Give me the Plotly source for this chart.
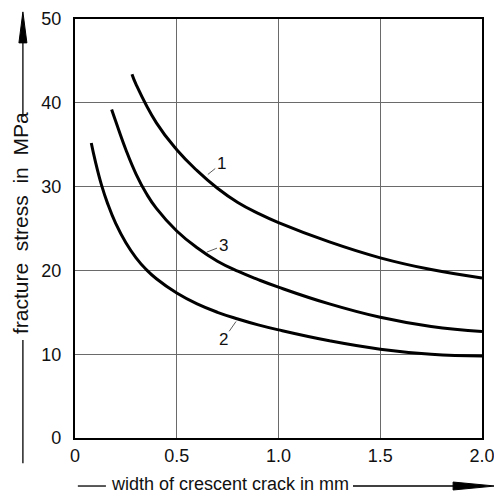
import plotly.graph_objects as go

# Data
x_curve1 = [0.28, 0.3, 0.4, 0.5, 0.6, 0.7, 0.8, 0.9, 1.0, 1.25, 1.5, 1.75, 2.0]
y_curve1 = [43.4, 42.2, 37.6, 34.4, 31.9, 29.8, 28.1, 26.8, 25.7, 23.4, 21.5, 20.1, 19.1]

x_curve3 = [0.18, 0.2, 0.25, 0.3, 0.35, 0.4, 0.5, 0.6, 0.7, 0.8, 0.9, 1.0, 1.25, 1.5, 1.75, 2.0]
y_curve3 = [39.2, 37.8, 34.4, 31.5, 29.2, 27.4, 24.7, 22.7, 21.1, 19.9, 18.9, 18.0, 16.0, 14.4, 13.3, 12.7]

x_curve2 = [0.08, 0.1, 0.13, 0.16, 0.2, 0.25, 0.3, 0.35, 0.4, 0.5, 0.6, 0.7, 0.8, 0.9, 1.0, 1.25, 1.5, 1.75, 2.0]
y_curve2 = [35.2, 33.0, 30.2, 28.0, 25.6, 23.3, 21.5, 20.1, 19.0, 17.3, 16.0, 15.0, 14.2, 13.5, 12.9, 11.6, 10.6, 10.0, 9.8]

x_ticks = [0, 0.5, 1.0, 1.5, 2.0]
x_tick_labels = ["0", "0.5", "1.0", "1.5", "2.0"]
y_ticks = [0, 10, 20, 30, 40, 50]
y_tick_labels = ["0", "10", "20", "30", "40", "50"]

curve_names = ["1", "2", "3"]
label_anchor_x = [0.645, 0.797, 0.639]
label_anchor_y = [31.3, 14.1, 22.1]

x_title = "width of crescent crack in mm"
y_title = "fracture\u00a0 stress\u00a0 in\u00a0 MPa"

FONT = "Liberation Sans, Arial, sans-serif"

fig = go.Figure()
for xs, ys, name in [(x_curve1, y_curve1, "1"), (x_curve2, y_curve2, "2"), (x_curve3, y_curve3, "3")]:
    fig.add_trace(go.Scatter(x=xs, y=ys, mode="lines", name=name,
                             line=dict(color="black", width=3, shape="spline", smoothing=1.3),
                             showlegend=False, hoverinfo="skip"))

axis_common = dict(showgrid=True, gridcolor="#6a6a6a", gridwidth=1, zeroline=False,
                   showline=True, linecolor="black", linewidth=2.2, mirror=True,
                   automargin=False, ticklabeloverflow="allow",
                   ticks="", tickfont=dict(family=FONT, size=18, color="#111"))

fig.update_xaxes(range=[0, 2.0], tickvals=x_ticks, ticktext=x_tick_labels,
                 ticklabelstandoff=0, **axis_common)
fig.update_yaxes(range=[0, 50], tickvals=y_ticks, ticktext=y_tick_labels,
                 ticklabelstandoff=8, **axis_common)

offsets = {"1": (15, -12), "2": (-14, 20), "3": (18, -7)}
annotations = []
for name, ax_, ay_ in zip(curve_names, label_anchor_x, label_anchor_y):
    dx, dy = offsets[name]
    annotations.append(dict(x=ax_, y=ay_, xref="x", yref="y", text=name, showarrow=True,
                            arrowhead=0, arrowwidth=0.8, arrowcolor="#333", ax=dx, ay=dy,
                            standoff=2, font=dict(family=FONT, size=17, color="#111")))

# axis titles
annotations.append(dict(x=0.086, y=-0.110, xref="paper", yref="paper", text=x_title,
                        showarrow=False, xanchor="left", yanchor="middle", borderpad=0,
                        font=dict(family=FONT, size=18, color="#111")))
annotations.append(dict(x=-0.135, y=0.513, xref="paper", yref="paper", text=y_title,
                        showarrow=False, textangle=-90, xanchor="center", yanchor="middle",
                        font=dict(family=FONT, size=21, color="#111")))
fig.update_layout(annotations=annotations)

shapes = [
    # x-title lead line and arrow
    dict(type="line", xref="paper", yref="paper", x0=0.007, x1=0.076, y0=-0.1146, y1=-0.1146,
         line=dict(color="black", width=1.3)),
    dict(type="line", xref="paper", yref="paper", x0=0.683, x1=0.94, y0=-0.1146, y1=-0.1146,
         line=dict(color="black", width=1.3)),
    dict(type="path", xref="paper", yref="paper",
         path="M 0.929 -0.1051 L 1.032 -0.1146 L 0.929 -0.1241 Z",
         fillcolor="black", line=dict(color="black", width=1)),
    # y-title lead line and arrow
    dict(type="line", xref="paper", yref="paper", x0=-0.128, x1=-0.128, y0=0.234, y1=-0.060,
         line=dict(color="black", width=1.3)),
    dict(type="line", xref="paper", yref="paper", x0=-0.128, x1=-0.128, y0=0.766, y1=0.95,
         line=dict(color="black", width=1.3)),
    dict(type="path", xref="paper", yref="paper",
         path="M -0.1378 0.943 L -0.128 1.017 L -0.1182 0.943 Z",
         fillcolor="black", line=dict(color="black", width=1)),
]
fig.update_layout(shapes=shapes)

fig.update_layout(width=494, height=494, margin=dict(l=75, r=12, t=19, b=56),
                  paper_bgcolor="white", plot_bgcolor="white")

fig.write_html("out.html")
